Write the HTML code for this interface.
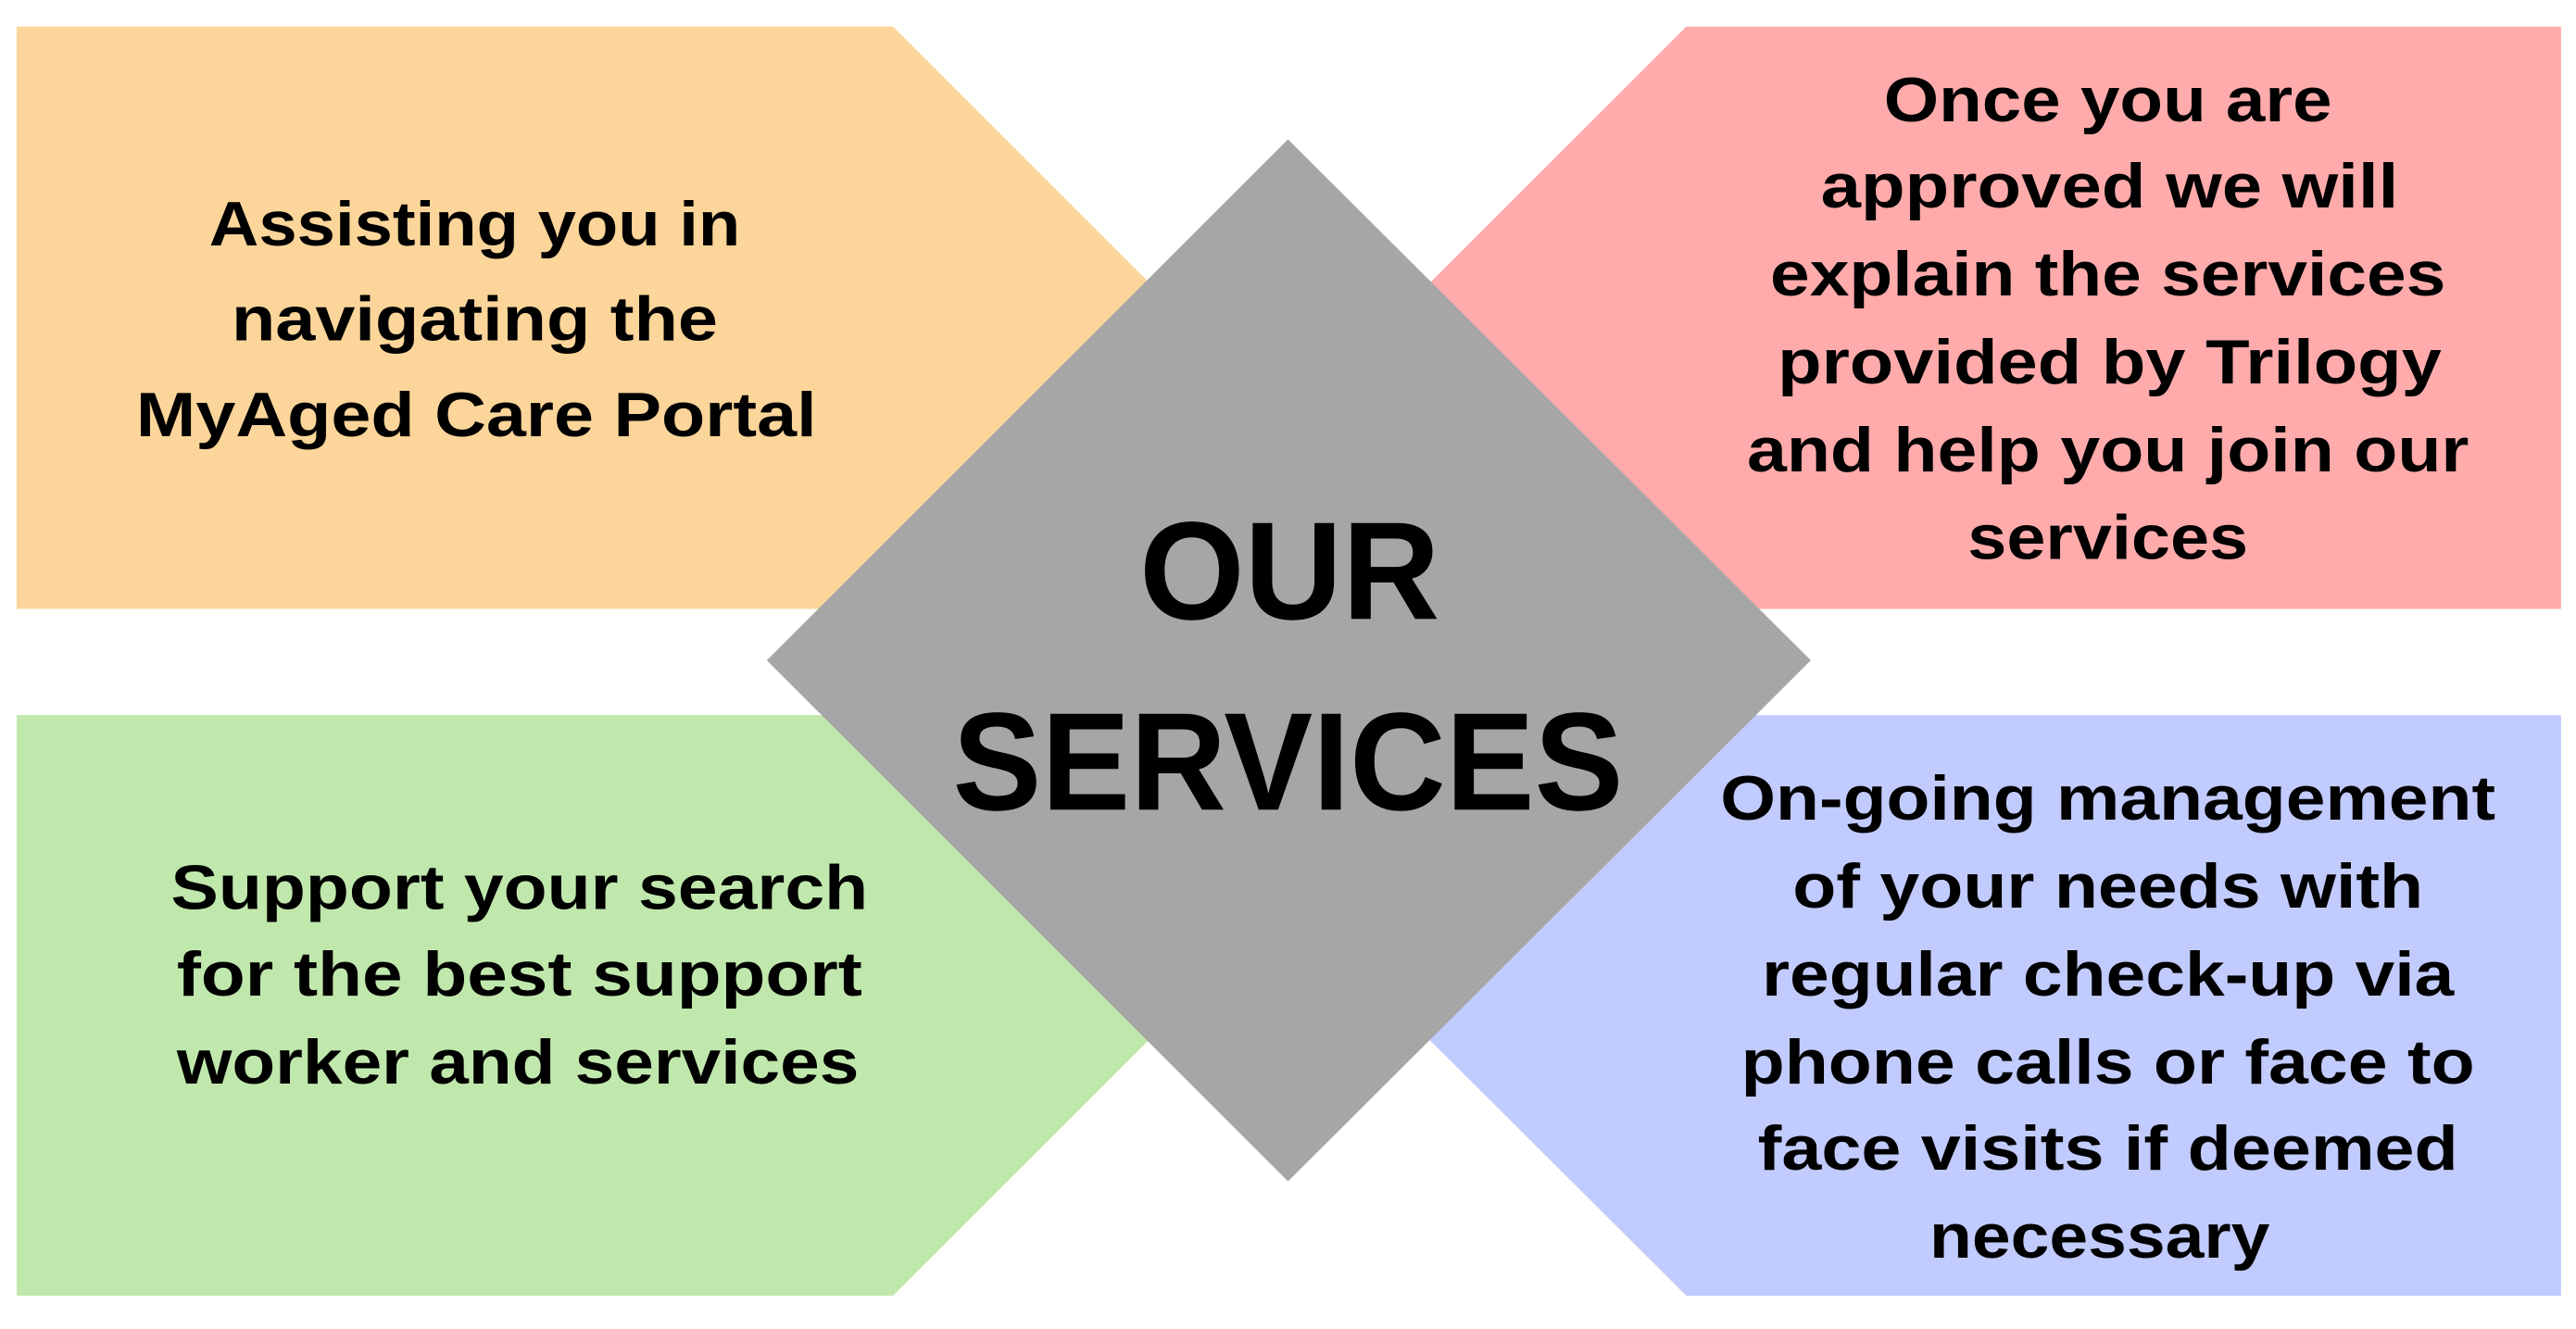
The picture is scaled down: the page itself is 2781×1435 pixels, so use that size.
<!DOCTYPE html>
<html><head><meta charset="utf-8"><style>
html,body{margin:0;padding:0;background:#fff;}
svg{display:block;}
text{font-family:"Liberation Sans",sans-serif;font-weight:bold;fill:#000;text-anchor:middle;}
.b{font-size:38px;}
.t{font-size:84px;}
</style></head><body>
<svg width="2781" height="1435" viewBox="0 0 1552 801" preserveAspectRatio="none">
<rect width="1552" height="801" fill="#fff"/>
<polygon points="10,16 538,16 889,367 10,367" fill="#FCD59A"/>
<polygon points="1016,16 1543,16 1543,367 665,367" fill="#FFABAB"/>
<polygon points="10,431 888,431 538,781 10,781" fill="#C0E8AC"/>
<polygon points="665,431 1543,431 1543,781 1016,781" fill="#C1CBFE"/>
<polygon points="776,84 1091,398 776,712 462,398" fill="#A6A6A6"/>
<g class="b" lengthAdjust="spacingAndGlyphs">
<text x="286" y="148" textLength="320" lengthAdjust="spacingAndGlyphs">Assisting you in</text>
<text x="286" y="205" textLength="293" lengthAdjust="spacingAndGlyphs">navigating the</text>
<text x="287" y="263" textLength="410" lengthAdjust="spacingAndGlyphs">MyAged Care Portal</text>

<text x="1270" y="73" textLength="270" lengthAdjust="spacingAndGlyphs">Once you are</text>
<text x="1271" y="125" textLength="348" lengthAdjust="spacingAndGlyphs">approved we will</text>
<text x="1270" y="178" textLength="407" lengthAdjust="spacingAndGlyphs">explain the services</text>
<text x="1271" y="231" textLength="400" lengthAdjust="spacingAndGlyphs">provided by Trilogy</text>
<text x="1270" y="284" textLength="435" lengthAdjust="spacingAndGlyphs">and help you join our</text>
<text x="1270" y="337" textLength="169" lengthAdjust="spacingAndGlyphs">services</text>

<text x="313" y="548" textLength="420" lengthAdjust="spacingAndGlyphs">Support your search</text>
<text x="313" y="600" textLength="413" lengthAdjust="spacingAndGlyphs">for the best support</text>
<text x="312" y="653" textLength="411" lengthAdjust="spacingAndGlyphs">worker and services</text>

<text x="1270" y="494" textLength="467" lengthAdjust="spacingAndGlyphs">On-going management</text>
<text x="1270" y="547" textLength="380" lengthAdjust="spacingAndGlyphs">of your needs with</text>
<text x="1270" y="600" textLength="417" lengthAdjust="spacingAndGlyphs">regular check-up via</text>
<text x="1270" y="653" textLength="442" lengthAdjust="spacingAndGlyphs">phone calls or face to</text>
<text x="1270" y="705" textLength="422" lengthAdjust="spacingAndGlyphs">face visits if deemed</text>
<text x="1265" y="758" textLength="205" lengthAdjust="spacingAndGlyphs">necessary</text>
</g>
<text class="t" x="777" y="373" textLength="181" lengthAdjust="spacingAndGlyphs">OUR</text>
<text class="t" x="776" y="488" textLength="404" lengthAdjust="spacingAndGlyphs">SERVICES</text>
</svg>
</body></html>
